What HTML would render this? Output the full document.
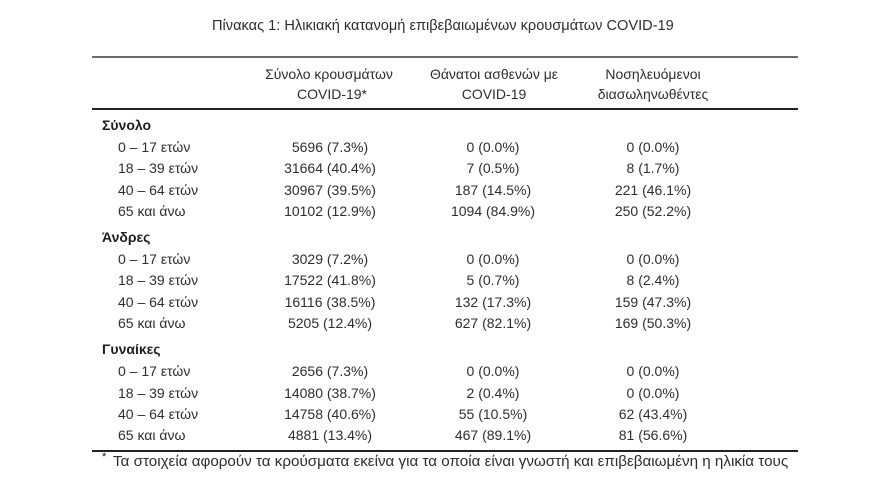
<!DOCTYPE html>
<html><head><meta charset="utf-8">
<style>
html,body{margin:0;padding:0;background:#fff;}
body{width:880px;height:499px;position:relative;overflow:hidden;
font-family:"Liberation Sans","DejaVu Sans",sans-serif;color:#2e2e2e;font-size:14px;}
.t{position:absolute;line-height:16px;white-space:nowrap;}
.c{width:240px;text-align:center;}
.b{font-weight:bold;color:#1e1e1e;}
.rule{position:absolute;left:92px;width:706px;}
</style></head><body>
<div class="t" style="left:212px;top:18px;font-size:14.6px;">Πίνακας 1: Ηλικιακή κατανομή επιβεβαιωμένων κρουσμάτων COVID-19</div>
<div class="rule" style="top:56px;height:2px;background:#6a6a6a;"></div>
<div class="t c" style="left:209px;top:66px;">Σύνολο κρουσμάτων</div>
<div class="t c" style="left:212px;top:86px;">COVID-19*</div>
<div class="t c" style="left:374px;top:66px;">Θάνατοι ασθενών με</div>
<div class="t c" style="left:374px;top:86px;">COVID-19</div>
<div class="t c" style="left:533px;top:66px;">Νοσηλευόμενοι</div>
<div class="t c" style="left:533px;top:86px;">διασωληνωθέντες</div>
<div class="rule" style="top:108px;height:2px;background:#222;"></div>

<div class="t b" style="left:102px;top:117px;">Σύνολο</div>
<div class="t" style="left:118px;top:139px;">0 – 17 ετών</div>
<div class="t" style="left:118px;top:160px;">18 – 39 ετών</div>
<div class="t" style="left:118px;top:182px;">40 – 64 ετών</div>
<div class="t" style="left:118px;top:203px;">65 και άνω</div>
<div class="t c" style="left:210px;top:139px;">5696 (7.3%)</div>
<div class="t c" style="left:210px;top:160px;">31664 (40.4%)</div>
<div class="t c" style="left:210px;top:182px;">30967 (39.5%)</div>
<div class="t c" style="left:210px;top:203px;">10102 (12.9%)</div>
<div class="t c" style="left:373px;top:139px;">0 (0.0%)</div>
<div class="t c" style="left:373px;top:160px;">7 (0.5%)</div>
<div class="t c" style="left:373px;top:182px;">187 (14.5%)</div>
<div class="t c" style="left:373px;top:203px;">1094 (84.9%)</div>
<div class="t c" style="left:533px;top:139px;">0 (0.0%)</div>
<div class="t c" style="left:533px;top:160px;">8 (1.7%)</div>
<div class="t c" style="left:533px;top:182px;">221 (46.1%)</div>
<div class="t c" style="left:533px;top:203px;">250 (52.2%)</div>

<div class="t b" style="left:102px;top:229px;">Άνδρες</div>
<div class="t" style="left:118px;top:251px;">0 – 17 ετών</div>
<div class="t" style="left:118px;top:272px;">18 – 39 ετών</div>
<div class="t" style="left:118px;top:294px;">40 – 64 ετών</div>
<div class="t" style="left:118px;top:315px;">65 και άνω</div>
<div class="t c" style="left:210px;top:251px;">3029 (7.2%)</div>
<div class="t c" style="left:210px;top:272px;">17522 (41.8%)</div>
<div class="t c" style="left:210px;top:294px;">16116 (38.5%)</div>
<div class="t c" style="left:210px;top:315px;">5205 (12.4%)</div>
<div class="t c" style="left:373px;top:251px;">0 (0.0%)</div>
<div class="t c" style="left:373px;top:272px;">5 (0.7%)</div>
<div class="t c" style="left:373px;top:294px;">132 (17.3%)</div>
<div class="t c" style="left:373px;top:315px;">627 (82.1%)</div>
<div class="t c" style="left:533px;top:251px;">0 (0.0%)</div>
<div class="t c" style="left:533px;top:272px;">8 (2.4%)</div>
<div class="t c" style="left:533px;top:294px;">159 (47.3%)</div>
<div class="t c" style="left:533px;top:315px;">169 (50.3%)</div>

<div class="t b" style="left:102px;top:341px;">Γυναίκες</div>
<div class="t" style="left:118px;top:363px;">0 – 17 ετών</div>
<div class="t" style="left:118px;top:385px;">18 – 39 ετών</div>
<div class="t" style="left:118px;top:406px;">40 – 64 ετών</div>
<div class="t" style="left:118px;top:427px;">65 και άνω</div>
<div class="t c" style="left:210px;top:363px;">2656 (7.3%)</div>
<div class="t c" style="left:210px;top:385px;">14080 (38.7%)</div>
<div class="t c" style="left:210px;top:406px;">14758 (40.6%)</div>
<div class="t c" style="left:210px;top:427px;">4881 (13.4%)</div>
<div class="t c" style="left:373px;top:363px;">0 (0.0%)</div>
<div class="t c" style="left:373px;top:385px;">2 (0.4%)</div>
<div class="t c" style="left:373px;top:406px;">55 (10.5%)</div>
<div class="t c" style="left:373px;top:427px;">467 (89.1%)</div>
<div class="t c" style="left:533px;top:363px;">0 (0.0%)</div>
<div class="t c" style="left:533px;top:385px;">0 (0.0%)</div>
<div class="t c" style="left:533px;top:406px;">62 (43.4%)</div>
<div class="t c" style="left:533px;top:427px;">81 (56.6%)</div>

<div class="rule" style="top:450px;height:2px;background:#222;"></div>
<div class="t" style="left:102px;top:452px;font-size:11px;line-height:10px;color:#111;">*</div>
<div class="t" style="left:113px;top:453px;font-size:15.2px;line-height:18px;">Τα στοιχεία αφορούν τα κρούσματα εκείνα για τα οποία είναι γνωστή και επιβεβαιωμένη η ηλικία τους</div>
</body></html>
